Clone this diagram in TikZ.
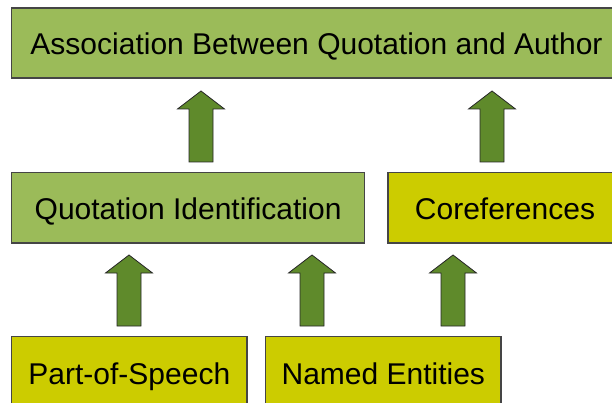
\documentclass[tikz,border=0pt]{standalone}
\usepackage{fontspec}
\setmainfont{Liberation Sans}
\definecolor{boxgreen}{HTML}{9BBB59}
\definecolor{boxyellow}{HTML}{CCCC00}
\definecolor{arrowgreen}{HTML}{5F8A2B}
\definecolor{edgegray}{HTML}{454545}
\tikzset{
  box/.style={draw=edgegray, line width=1.2pt, inner sep=0pt, minimum height=70.5pt},
  greenbox/.style={box, fill=boxgreen},
  yellowbox/.style={box, fill=boxyellow},
  label/.style={inner sep=0pt, text height=21.6pt, text depth=0pt, font=\fontsize{30}{36}\selectfont},
  arrowstyle/.style={draw=black!85, line width=0.8pt, fill=arrowgreen, line join=miter},
  blockarrow/.pic={\path[arrowstyle] (-12,71) -- (-12,18) -- (-23.5,18) -- (0,0) -- (23.5,18) -- (12,18) -- (12,71) -- cycle;}
}
\begin{document}
\begin{tikzpicture}[x=1pt,y=-1pt]
\useasboundingbox (0,0) rectangle (612,403);
\clip (0,0) rectangle (612,403);
% boxes
\node[greenbox, minimum width=609.3pt, minimum height=70pt] (assoc) at (316.35,43) {};
\node[label] (assoctext) at (316.5,43.5) {Association Between Quotation and Author};
\node[greenbox, minimum width=352.8pt] (quot) at (188.1,207.75) {};
\node[label] (quottext) at (188.1,208.5) {Quotation Identification};
\node[yellowbox, minimum width=234pt] (coref) at (505,207.75) {};
\node[label] (coreftext) at (505,208.5) {Coreferences};
\node[yellowbox, minimum width=235.3pt, minimum height=73.5pt] (pos) at (129.35,373.25) {};
\node[label] (postext) at (129.35,373.2) {Part-of-Speech};
\node[yellowbox, minimum width=235.4pt, minimum height=73.5pt] (ne) at (383.3,373.25) {};
\node[label] (netext) at (383.3,373.2) {Named Entities};
% block arrows
\pic (a1) at (201,91) {blockarrow};
\pic (a2) at (492,91) {blockarrow};
\pic (a3) at (129,255) {blockarrow};
\pic (a4) at (312,255) {blockarrow};
\pic (a5) at (453,255) {blockarrow};
\end{tikzpicture}
\end{document}
